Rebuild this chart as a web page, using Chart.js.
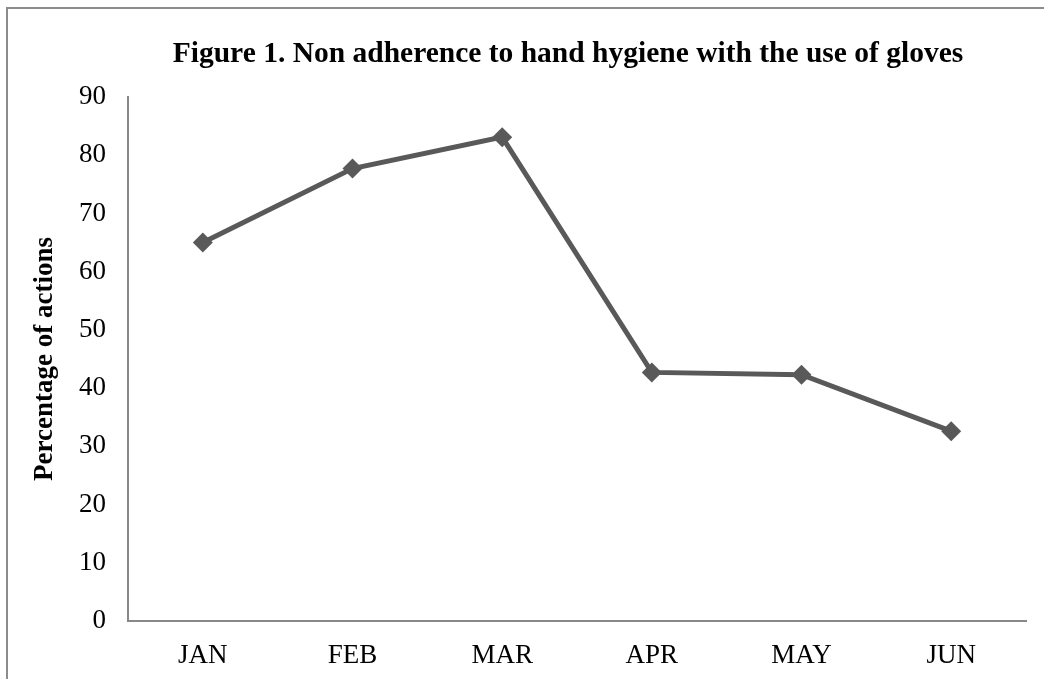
<!DOCTYPE html>
<html>
<head>
<meta charset="utf-8">
<script src="https://cdn.jsdelivr.net/npm/chart.js@4.4.1/dist/chart.umd.min.js"></script>
<style>
  html, body { margin: 0; padding: 0; background: #ffffff; }
  #wrap { position: relative; width: 1044px; height: 679px; }
</style>
</head>
<body>
<div id="wrap"><canvas id="chart" width="1044" height="679"></canvas></div>
<script>
// Monthly share of actions without hand hygiene while wearing gloves
const months = ['JAN', 'FEB', 'MAR', 'APR', 'MAY', 'JUN'];
const nonAdherence = [65.0, 77.7, 83.1, 42.7, 42.3, 32.6];
const yTicks = [0, 10, 20, 30, 40, 50, 60, 70, 80, 90];
const chartTitle = 'Figure 1. Non adherence to hand hygiene with the use of gloves';

const serif = '"Liberation Serif", "Times New Roman", serif';

// Grey frame around the figure plus the figure caption
const framePlugin = {
  id: 'frame',
  beforeDraw(chart) {
    const ctx = chart.ctx;
    ctx.save();
    ctx.strokeStyle = '#8c8c8c';
    ctx.lineWidth = 2;
    ctx.beginPath();
    ctx.moveTo(7, 679);
    ctx.lineTo(7, 8);
    ctx.lineTo(1044, 8);
    ctx.stroke();

    const area = chart.chartArea;
    const cx = (area.left + area.right) / 2 - 9;
    ctx.fillStyle = '#000000';
    ctx.font = 'bold 29.5px ' + serif;
    ctx.textAlign = 'center';
    ctx.textBaseline = 'alphabetic';
    ctx.fillText(chartTitle, cx, 62);
    ctx.restore();
  }
};

new Chart(document.getElementById('chart'), {
  type: 'line',
  data: {
    labels: months,
    datasets: [{
      data: nonAdherence,
      borderColor: '#595959',
      backgroundColor: '#595959',
      borderWidth: 5,
      pointStyle: 'rectRot',
      pointRadius: 10,
      pointHoverRadius: 10,
      pointBorderWidth: 0,
      tension: 0
    }]
  },
  options: {
    responsive: false,
    animation: false,
    events: [],
    layout: { padding: { left: 0, right: 18, top: 97, bottom: 0 } },
    plugins: {
      legend: { display: false },
      tooltip: { enabled: false },
      title: { display: false }
    },
    scales: {
      x: {
        offset: true,
        grid: { display: false, drawTicks: false, offset: true },
        border: { display: true, color: '#888888', width: 2 },
        ticks: {
          color: '#000000',
          font: { family: serif, size: 27 },
          padding: 19,
          maxRotation: 0
        },
        afterFit(scale) { scale.height = 58; }
      },
      y: {
        min: 0,
        max: 90,
        afterBuildTicks(scale) { scale.ticks = yTicks.map(v => ({ value: v })); },
        grid: { display: false, drawTicks: false },
        border: { display: true, color: '#888888', width: 2 },
        ticks: {
          color: '#000000',
          font: { family: serif, size: 27 },
          padding: 22
        },
        title: {
          display: true,
          text: 'Percentage of actions',
          color: '#000000',
          font: { family: serif, size: 27, weight: 'bold' },
          padding: { top: 29, bottom: 0 }
        },
        afterFit(scale) { scale.width = 128; }
      }
    }
  },
  plugins: [framePlugin]
});
</script>
</body>
</html>
